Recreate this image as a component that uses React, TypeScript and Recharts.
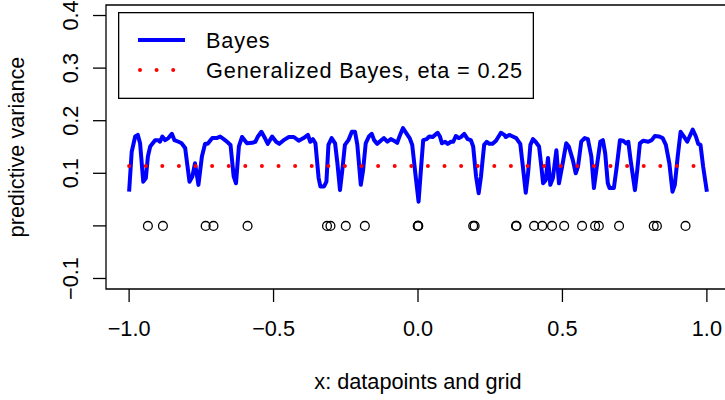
import React from 'react';
import { ComposedChart, Line, Scatter, XAxis, YAxis, ReferenceArea, Legend } from 'recharts';

const FONT = '"Liberation Sans", Arial, Helvetica, sans-serif';
const FS = 21.7;

const xTicks = [-1, -0.5, 0, 0.5, 1];
const xTickLabels = ['−1.0', '−0.5', '0.0', '0.5', '1.0'];
const yTicks = [-0.1, 0, 0.1, 0.2, 0.3, 0.4];
const yTickLabels = ['−0.1', '', '0.1', '0.2', '0.3', '0.4'];

const seriesNames = ['Bayes', 'Generalized Bayes, eta = 0.25'];
const seriesColors = ['#0000ff', '#ff0000'];

// predictive variance of plain Bayes along the grid, [x, variance]
const bayesCurve: [number, number][] = [
  [-1.0, 0.065], [-0.991, 0.141], [-0.979, 0.17], [-0.97, 0.173], [-0.962, 0.157],
  [-0.951, 0.084], [-0.942, 0.091], [-0.935, 0.132], [-0.927, 0.151], [-0.91, 0.163],
  [-0.899, 0.163], [-0.893, 0.16], [-0.885, 0.17], [-0.875, 0.163], [-0.864, 0.167],
  [-0.852, 0.175], [-0.843, 0.163], [-0.829, 0.16], [-0.818, 0.157], [-0.806, 0.148],
  [-0.791, 0.084], [-0.781, 0.094], [-0.772, 0.119], [-0.76, 0.078], [-0.748, 0.132],
  [-0.737, 0.156], [-0.728, 0.156], [-0.712, 0.167], [-0.697, 0.167], [-0.685, 0.17],
  [-0.668, 0.163], [-0.661, 0.16], [-0.649, 0.154], [-0.638, 0.094], [-0.63, 0.081],
  [-0.62, 0.151], [-0.609, 0.169], [-0.592, 0.157], [-0.574, 0.158], [-0.563, 0.16],
  [-0.554, 0.17], [-0.542, 0.179], [-0.53, 0.167], [-0.52, 0.156], [-0.505, 0.17],
  [-0.491, 0.16], [-0.48, 0.156], [-0.465, 0.163], [-0.447, 0.169], [-0.43, 0.169],
  [-0.413, 0.162], [-0.396, 0.167], [-0.381, 0.173], [-0.373, 0.16], [-0.364, 0.165],
  [-0.355, 0.157], [-0.344, 0.091], [-0.338, 0.075], [-0.333, 0.075], [-0.325, 0.075],
  [-0.317, 0.084], [-0.31, 0.154], [-0.299, 0.167], [-0.287, 0.157], [-0.279, 0.119],
  [-0.27, 0.068], [-0.262, 0.106], [-0.253, 0.154], [-0.241, 0.163], [-0.229, 0.179],
  [-0.218, 0.179], [-0.21, 0.154], [-0.198, 0.078], [-0.19, 0.106], [-0.181, 0.157],
  [-0.17, 0.17], [-0.16, 0.175], [-0.152, 0.163], [-0.141, 0.156], [-0.129, 0.162],
  [-0.118, 0.167], [-0.106, 0.16], [-0.094, 0.165], [-0.083, 0.162], [-0.072, 0.158],
  [-0.062, 0.173], [-0.052, 0.186], [-0.04, 0.176], [-0.029, 0.167], [-0.02, 0.154],
  [-0.008, 0.094], [0.002, 0.046], [0.01, 0.106], [0.018, 0.163], [0.03, 0.165],
  [0.039, 0.17], [0.051, 0.169], [0.059, 0.173], [0.068, 0.177], [0.076, 0.17],
  [0.083, 0.157], [0.094, 0.16], [0.103, 0.156], [0.114, 0.16], [0.122, 0.16],
  [0.131, 0.171], [0.141, 0.167], [0.149, 0.169], [0.16, 0.175], [0.172, 0.165],
  [0.183, 0.163], [0.191, 0.151], [0.201, 0.094], [0.21, 0.062], [0.218, 0.094],
  [0.229, 0.154], [0.238, 0.16], [0.247, 0.156], [0.258, 0.156], [0.27, 0.162],
  [0.287, 0.177], [0.299, 0.173], [0.304, 0.169], [0.316, 0.173], [0.328, 0.17],
  [0.34, 0.167], [0.354, 0.156], [0.363, 0.113], [0.373, 0.063], [0.381, 0.1],
  [0.389, 0.154], [0.398, 0.165], [0.407, 0.16], [0.419, 0.151], [0.427, 0.113],
  [0.433, 0.081], [0.442, 0.087], [0.45, 0.129], [0.458, 0.078], [0.467, 0.091],
  [0.479, 0.144], [0.488, 0.081], [0.499, 0.113], [0.513, 0.157], [0.522, 0.151],
  [0.536, 0.125], [0.546, 0.1], [0.554, 0.113], [0.565, 0.16], [0.577, 0.167],
  [0.588, 0.165], [0.6, 0.132], [0.609, 0.072], [0.619, 0.113], [0.631, 0.16],
  [0.64, 0.163], [0.648, 0.138], [0.657, 0.081], [0.663, 0.072], [0.678, 0.072],
  [0.688, 0.113], [0.699, 0.163], [0.71, 0.162], [0.72, 0.157], [0.728, 0.16],
  [0.736, 0.125], [0.751, 0.068], [0.759, 0.106], [0.768, 0.157], [0.78, 0.162],
  [0.797, 0.16], [0.809, 0.163], [0.82, 0.171], [0.835, 0.17], [0.847, 0.167],
  [0.858, 0.154], [0.87, 0.119], [0.881, 0.065], [0.889, 0.078], [0.899, 0.132],
  [0.909, 0.179], [0.92, 0.17], [0.932, 0.16], [0.951, 0.183], [0.962, 0.17],
  [0.97, 0.156], [0.978, 0.154], [0.987, 0.113], [1.0, 0.065],
];

// generalized Bayes (eta = 0.25) gives a flat variance over the grid
const genBayesX = [-1, 1];
const genBayesLevel = 0.114;

// observed x locations, drawn on the zero line
const datapointsX = [
  -0.935, -0.883, -0.735, -0.708, -0.59, -0.315, -0.303, -0.25, -0.184,
  -0.001, 0.0, 0.001, 0.191, 0.196, 0.339, 0.341, 0.402, 0.43, 0.464,
  0.506, 0.568, 0.613, 0.626, 0.696, 0.816, 0.827, 0.926,
];

const bayesData = bayesCurve.map(([x, y]) => ({ x, y }));
const genBayesData = genBayesX.map((x) => ({ x, y: genBayesLevel }));
const pointData = datapointsX.map((x) => ({ x, y: 0 }));

const XTick = ({ x, payload }: any) => (
  <text x={x} y={336} textAnchor="middle" fontSize={FS} fontFamily={FONT} fill="#000">
    {xTickLabels[xTicks.indexOf(payload.value)]}
  </text>
);

const YTick = ({ y, payload }: any) => (
  <text
    x={78}
    y={y}
    transform={`rotate(-90, 78, ${y})`}
    textAnchor="middle"
    fontSize={FS}
    fontFamily={FONT}
    fill="#000"
  >
    {yTickLabels[yTicks.indexOf(payload.value)]}
  </text>
);

const XTitle = ({ viewBox }: any) => (
  <text
    x={viewBox.x + viewBox.width / 2}
    y={viewBox.y + 100}
    textAnchor="middle"
    fontSize={FS}
    fontFamily={FONT}
    fill="#000"
  >
    x: datapoints and grid
  </text>
);

const YTitle = ({ viewBox }: any) => {
  const cy = viewBox.y + viewBox.height / 2;
  return (
    <text x={24} y={cy} transform={`rotate(-90, 24, ${cy})`} textAnchor="middle" fontSize={FS} fontFamily={FONT} fill="#000">
      predictive variance
    </text>
  );
};

const Circle = (props: any) => (
  <circle cx={props.cx} cy={props.cy} r={4.4} fill="none" stroke="#000" strokeWidth={1.3} />
);

// legend box in the top left corner of the plot, R style
const LegendBox = () => (
  <svg width={416} height={87} style={{ display: 'block' }}>
    <rect x={0.65} y={0.65} width={414.7} height={85.7} fill="#fff" stroke="#000" strokeWidth={1.3} />
    <line x1={20} y1={28} x2={67} y2={28} stroke={seriesColors[0]} strokeWidth={4} />
    <line
      x1={22}
      y1={58}
      x2={66}
      y2={58}
      stroke={seriesColors[1]}
      strokeWidth={4}
      strokeDasharray="0 16.6"
      strokeLinecap="round"
    />
    <text x={88} y={36} fontSize={FS} fontFamily={FONT} letterSpacing={0.85} fill="#000">
      {seriesNames[0]}
    </text>
    <text x={88} y={65.5} fontSize={FS} fontFamily={FONT} letterSpacing={0.85} fill="#000">
      {seriesNames[1]}
    </text>
  </svg>
);

export default function App() {
  return (
    <div style={{ position: 'fixed', left: 0, top: 0, width: 725, height: 400, overflow: 'hidden', background: '#fff' }}>
      <ComposedChart width={740} height={400} margin={{ top: 5, right: 10, bottom: 0, left: 0 }}>
        <XAxis
          type="number"
          dataKey="x"
          domain={[-1.08, 1.08]}
          allowDataOverflow
          ticks={xTicks}
          tick={<XTick />}
          tickSize={13}
          tickLine={{ stroke: '#000', strokeWidth: 1.3 }}
          axisLine={false}
          height={111}
          label={XTitle}
        />
        <YAxis
          type="number"
          dataKey="y"
          domain={[-0.12, 0.42]}
          allowDataOverflow
          ticks={yTicks}
          tick={<YTick />}
          tickSize={13}
          tickLine={{ stroke: '#000', strokeWidth: 1.3 }}
          axisLine={false}
          width={106}
          label={YTitle}
        />
        <ReferenceArea x1={-1.08} x2={1.08} y1={-0.12} y2={0.42} fill="none" stroke="#000" strokeWidth={1.3} />
        <Line
          data={bayesData}
          dataKey="y"
          type="linear"
          stroke={seriesColors[0]}
          strokeWidth={4}
          strokeLinejoin="round"
          dot={false}
          activeDot={false}
          isAnimationActive={false}
        />
        <Line
          data={genBayesData}
          dataKey="y"
          type="linear"
          stroke={seriesColors[1]}
          strokeWidth={4}
          strokeDasharray="0 16.6"
          strokeLinecap="round"
          dot={false}
          activeDot={false}
          isAnimationActive={false}
        />
        <Scatter data={pointData} dataKey="y" shape={Circle} isAnimationActive={false} />
        <Legend
          verticalAlign="middle"
          layout="horizontal"
          content={LegendBox}
          wrapperStyle={{ left: 118, top: 12, width: 416, height: 87 }}
        />
      </ComposedChart>
    </div>
  );
}
